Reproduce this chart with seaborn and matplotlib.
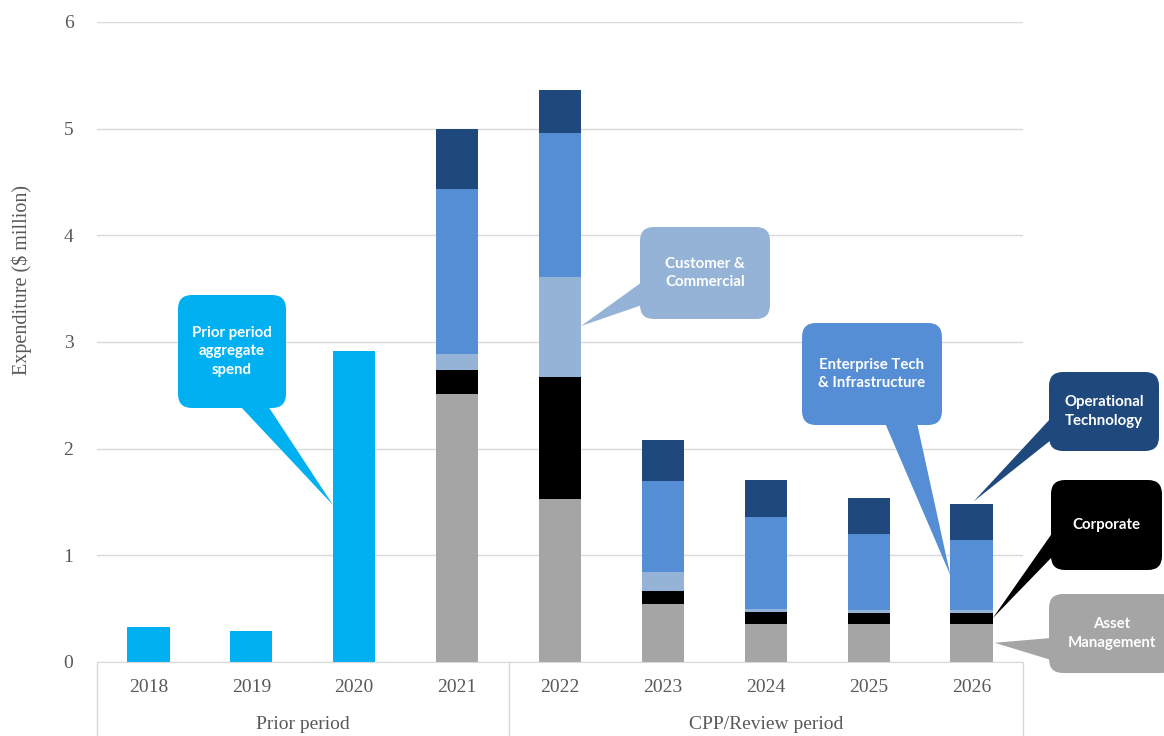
import numpy as np
import pandas as pd
import matplotlib.pyplot as plt
import seaborn as sns
from matplotlib.patches import FancyBboxPatch, Polygon
from matplotlib.transforms import IdentityTransform, blended_transform_factory

# data ($ million)
years = ["2018", "2019", "2020", "2021", "2022", "2023", "2024", "2025", "2026"]
prior_spend = [0.33, 0.29, 2.915, np.nan, np.nan, np.nan, np.nan, np.nan, np.nan]
asset_mgmt = [np.nan, np.nan, np.nan, 2.515, 1.53, 0.54, 0.356, 0.356, 0.356]
corporate = [np.nan, np.nan, np.nan, 0.225, 1.14, 0.125, 0.114, 0.10, 0.10]
customer = [np.nan, np.nan, np.nan, 0.15, 0.94, 0.175, 0.03, 0.034, 0.034]
enterprise = [np.nan, np.nan, np.nan, 1.54, 1.35, 0.86, 0.86, 0.71, 0.65]
operational = [np.nan, np.nan, np.nan, 0.57, 0.40, 0.38, 0.35, 0.34, 0.345]
groups = ["Prior period", "CPP/Review period"]

# colours
c_prior = "#00B0F0"
c_am = "#A5A5A5"
c_corp = "#000000"
c_cc = "#95B3D7"
c_eti = "#558ED5"
c_ot = "#1F497D"
c_line = "#D9D9D9"
c_text = "#595959"

W, H = 1164, 736
sns.set_style("white")
plt.rcParams["font.family"] = ["Liberation Serif", "DejaVu Serif"]

fig = plt.figure(figsize=(W / 100, H / 100), dpi=100)
ax = fig.add_axes([97 / W, (H - 662) / H, 926 / W, 640 / H])

df = pd.DataFrame({
    "year": years,
    "Asset Management": asset_mgmt,
    "Corporate": corporate,
    "Customer & Commercial": customer,
    "Enterprise Tech": enterprise,
    "Operational Technology": operational,
})
seg_cols = ["Asset Management", "Corporate", "Customer & Commercial",
            "Enterprise Tech", "Operational Technology"]
seg_colors = [c_am, c_corp, c_cc, c_eti, c_ot]
cum = df[seg_cols].cumsum(axis=1)

bw = 0.41
# draw cumulative layers from the top down so each covers the one behind
for col, color in reversed(list(zip(seg_cols, seg_colors))):
    sns.barplot(x=df["year"], y=cum[col], order=years, color=color,
                saturation=1, width=bw, errorbar=None, linewidth=0, ax=ax, zorder=3)
sns.barplot(x=years, y=prior_spend, order=years, color=c_prior,
            saturation=1, width=bw, errorbar=None, linewidth=0, ax=ax, zorder=3)

ax.set_ylim(0, 6)
ax.set_xlim(-0.5, len(years) - 0.5)
ax.set_yticks(range(7))
ax.yaxis.grid(True, color=c_line, linewidth=1, zorder=0)
ax.set_axisbelow(True)
for s in ["top", "right", "left"]:
    ax.spines[s].set_visible(False)
ax.spines["bottom"].set_color(c_line)
ax.spines["bottom"].set_zorder(4)
ax.tick_params(axis="both", length=0, labelsize=14, labelcolor=c_text)
ax.tick_params(axis="y", pad=17)
ax.tick_params(axis="x", pad=12)
ax.set_xlabel("")
ax.set_ylabel("Expenditure ($ million)", fontsize=14.5, color=c_text)
ax.yaxis.set_label_coords(-0.07, 0.597)

# category grouping box below the axis
btr = blended_transform_factory(ax.transData, ax.transAxes)
for xv in [-0.5, 3.5, len(years) - 0.5]:
    ax.plot([xv, xv], [0, -0.13], color=c_line, lw=1, transform=btr, clip_on=False)
ax.text(1.5, -0.097, groups[0], transform=btr, ha="center", va="center",
        fontsize=14, color=c_text)
ax.text(6.0, -0.097, groups[1], transform=btr, ha="center", va="center",
        fontsize=14, color=c_text)


def to_px(xd, yd):
    # data coords -> image pixel coords (top-left origin)
    dx, dy = ax.transData.transform((xd, yd))
    return dx, H - dy


def callout(box, base, tip, color, text):
    x0, y0, x1, y1 = box
    pts = [(base[0][0], H - base[0][1]), (tip[0], H - tip[1]),
           (base[1][0], H - base[1][1])]
    fig.add_artist(Polygon(pts, closed=True, facecolor=color, edgecolor="none",
                           transform=IdentityTransform(), zorder=5))
    fig.add_artist(FancyBboxPatch((x0, H - y1), x1 - x0, y1 - y0,
                                  boxstyle="round,pad=0,rounding_size=14",
                                  facecolor=color, edgecolor="none",
                                  transform=IdentityTransform(), zorder=5))
    fig.text((x0 + x1) / 2 / W, 1 - (y0 + y1) / 2 / H, text, ha="center",
             va="center", color="white", fontsize=10.8, fontweight="bold",
             family=["Lato", "DejaVu Sans"], linespacing=1.45, zorder=6)


i20, i22, i26 = years.index("2020"), years.index("2022"), years.index("2026")
tot26 = cum["Operational Technology"][i26]

callout((178, 295, 286, 408), [(240, 406), (268, 406)],
        to_px(i20 - bw / 2, 1.47), c_prior, "Prior period\naggregate\nspend")
callout((640, 227, 770, 319), [(642, 282), (642, 305)],
        to_px(i22 + bw / 2, 3.15), c_cc, "Customer &\nCommercial")
callout((802, 323, 942, 425), [(885, 423), (917, 423)],
        to_px(i26 - bw / 2, 0.81), c_eti, "Enterprise Tech\n& Infrastructure")
callout((1049, 372, 1159, 451), [(1051, 418), (1051, 440)],
        to_px(i26 + 0.02, tot26 + 0.02), c_ot, "Operational\nTechnology")
callout((1051, 480, 1162, 570), [(1053, 532), (1053, 556)],
        to_px(i26 + bw / 2, 0.41), c_corp, "Corporate")
callout((1049, 594, 1175, 673), [(1051, 638), (1051, 660)],
        to_px(i26 + bw / 2 + 0.02, 0.18), c_am, "Asset\nManagement")

fig.savefig("out.png", dpi=100)
